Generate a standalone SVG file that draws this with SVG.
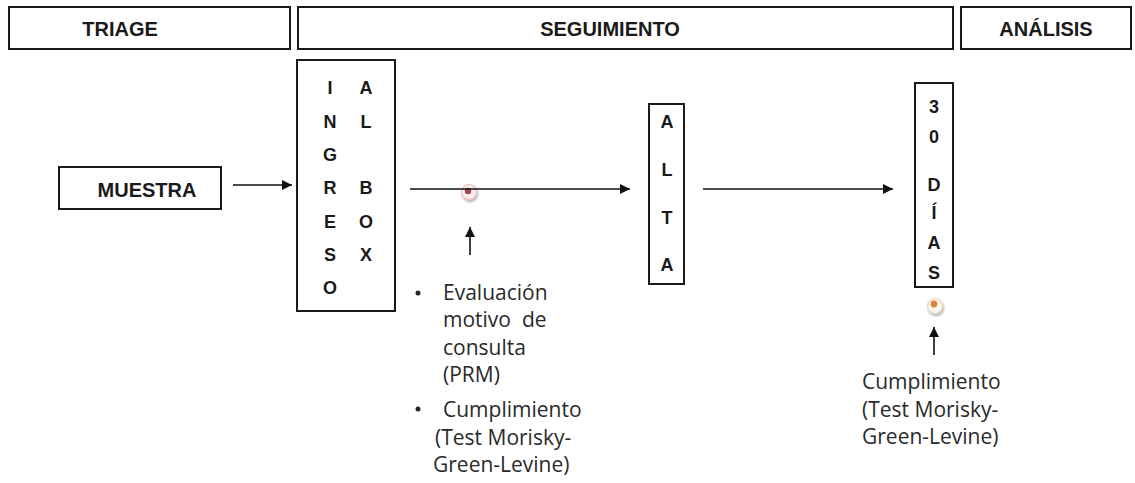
<svg xmlns="http://www.w3.org/2000/svg" width="1135" height="483" viewBox="0 0 1135 483">
<style>
.box{fill:#fff;stroke:#1a1a1a;stroke-width:2}
.hdr{font-family:"Liberation Sans",Arial,sans-serif;font-weight:bold;font-size:20px;fill:#1a1a1a;text-anchor:middle}
.vl{font-family:"Liberation Sans",Arial,sans-serif;font-weight:bold;font-size:18px;fill:#1a1a1a;text-anchor:middle}
.tx{font-family:"Open Sans","Noto Sans",sans-serif;font-size:21px;fill:#2a2a2a}
.ln{stroke:#111;stroke-width:1.6;fill:none}
</style>
<defs>
<marker id="ah" viewBox="0 0 10 10" refX="10" refY="5" markerWidth="12" markerHeight="10" markerUnits="userSpaceOnUse" orient="auto">
<path d="M0,0 L10,5 L0,10 z" fill="#111"/>
</marker>
<filter id="sh" x="-50%" y="-50%" width="200%" height="200%">
<feDropShadow dx="1" dy="2" stdDeviation="1.2" flood-color="#999" flood-opacity="0.7"/>
</filter>
</defs>
<g id="triage"><rect class="box" x="9" y="7" width="281" height="42"/><text class="hdr" x="120" y="36">TRIAGE</text></g>
<g id="seguimiento"><rect class="box" x="298" y="7" width="655" height="42"/><text class="hdr" x="610" y="36">SEGUIMIENTO</text></g>
<g id="analisis"><rect class="box" x="961" y="7" width="170" height="42"/><text class="hdr" x="1046" y="36">ANÁLISIS</text></g>
<g id="muestra"><rect class="box" x="59" y="167" width="162" height="42"/><text class="hdr" x="147" y="197">MUESTRA</text></g>
<g id="ingreso">
<rect class="box" x="297" y="60" width="98" height="251"/>
<text class="vl" x="330" y="94">I</text><text class="vl" x="330" y="128">N</text><text class="vl" x="330" y="161">G</text><text class="vl" x="330" y="194">R</text><text class="vl" x="330" y="228">E</text><text class="vl" x="330" y="261">S</text><text class="vl" x="330" y="294">O</text>
<text class="vl" x="366" y="94">A</text><text class="vl" x="366" y="128">L</text><text class="vl" x="366" y="194">B</text><text class="vl" x="366" y="228">O</text><text class="vl" x="366" y="261">X</text>
</g>
<g id="alta">
<rect class="box" x="649" y="104" width="35" height="180"/>
<text class="vl" x="667" y="128">A</text><text class="vl" x="667" y="176">L</text><text class="vl" x="667" y="224">T</text><text class="vl" x="667" y="271">A</text>
</g>
<g id="dias">
<rect class="box" x="915" y="83" width="38" height="204"/>
<text class="vl" x="934" y="113">3</text><text class="vl" x="934" y="143">0</text><text class="vl" x="934" y="191">D</text><text class="vl" x="934" y="219">Í</text><text class="vl" x="934" y="249">A</text><text class="vl" x="934" y="279">S</text>
</g>
<g id="dot1"><circle cx="469" cy="192" r="7.5" fill="#fdeeee" stroke="#f0c8c8" stroke-width="1.5" filter="url(#sh)"/><circle cx="468" cy="191" r="3.2" fill="#a8454d"/></g>
<g id="dot2"><circle cx="935" cy="306" r="7.5" fill="#fdf6ee" stroke="#eadccd" stroke-width="1.5" filter="url(#sh)"/><circle cx="934" cy="304" r="3.4" fill="#d9853d"/></g>
<g id="connectors">
<line class="ln" x1="233" y1="185" x2="292" y2="185" marker-end="url(#ah)"/>
<line class="ln" x1="410" y1="189" x2="630" y2="189" marker-end="url(#ah)"/>
<line class="ln" x1="703" y1="189" x2="893" y2="189" marker-end="url(#ah)"/>
<line class="ln" x1="470" y1="255" x2="470" y2="227" marker-end="url(#ah)"/>
<line class="ln" x1="934" y1="355" x2="934" y2="327" marker-end="url(#ah)"/>
</g>
<g id="nota1">
<circle cx="418" cy="293" r="2.5" fill="#262626"/>
<text class="tx" x="443" y="300">Evaluación</text>
<text class="tx" x="443" y="327" xml:space="preserve">motivo  de</text>
<text class="tx" x="443" y="355">consulta</text>
<text class="tx" x="443" y="382">(PRM)</text>
<circle cx="418" cy="409" r="2.5" fill="#262626"/>
<text class="tx" x="443" y="417">Cumplimiento</text>
<text class="tx" x="435" y="445">(Test Morisky-</text>
<text class="tx" x="433" y="472">Green-Levine)</text>
</g>
<g id="nota2">
<text class="tx" x="862" y="389">Cumplimiento</text>
<text class="tx" x="862" y="417">(Test Morisky-</text>
<text class="tx" x="862" y="444">Green-Levine)</text>
</g>
</svg>
